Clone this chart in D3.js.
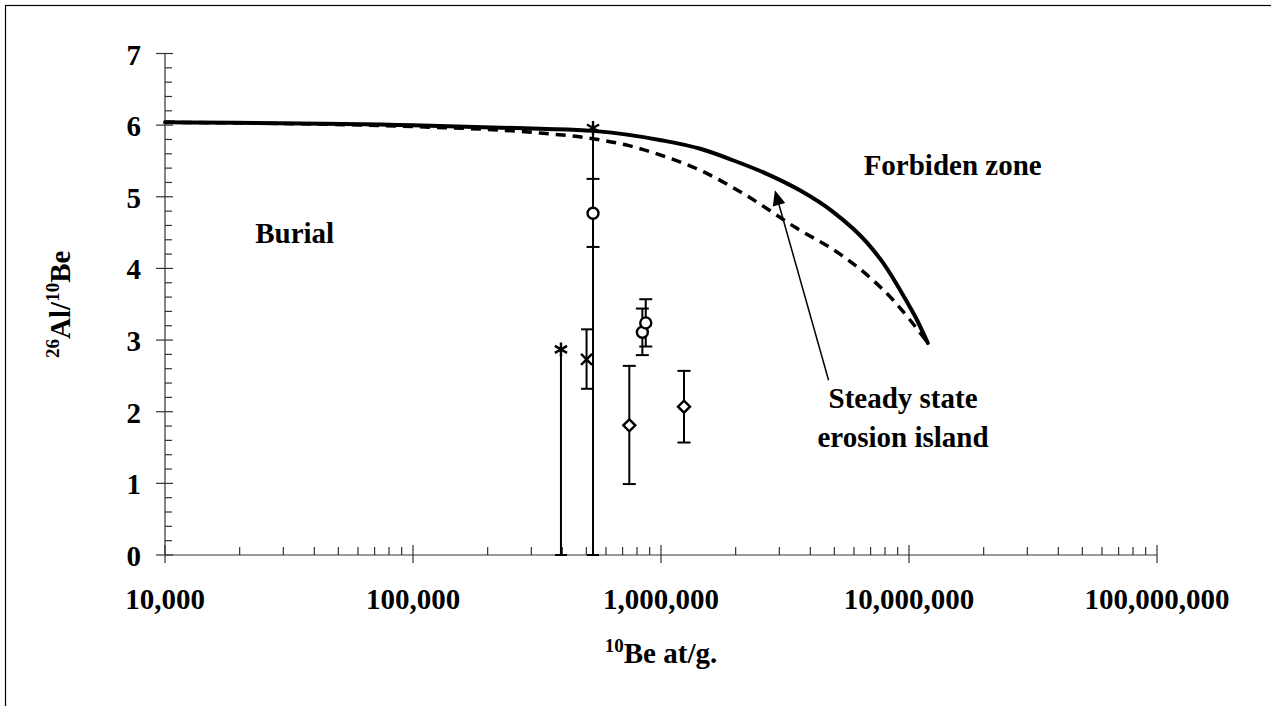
<!DOCTYPE html>
<html>
<head>
<meta charset="utf-8">
<script src="https://cdn.jsdelivr.net/npm/d3@7"></script>
<style>
  body { margin: 0; background: #fff; }
  svg { display: block; }
  text { font-family: "Liberation Serif", "Times New Roman", serif; font-weight: bold; fill: #000; }
</style>
</head>
<body>
<svg id="chart" width="1271" height="706"></svg>
<script>
// ---------- data ----------
const xTickValues = [1e4, 1e5, 1e6, 1e7, 1e8];
const xTickLabels = ["10,000", "100,000", "1,000,000", "10,000,000", "100,000,000"];
const yTickValues = [0, 1, 2, 3, 4, 5, 6, 7];

// steady-state (zero erosion) limit - solid curve
const solidX = [1e4, 1e5, 3.25e5, 5.32e5, 1e6, 1.44e6, 1.95e6, 2.67e6, 3.63e6, 4.94e6, 6.77e6, 7.85e6, 9.82e6, 1.077e7, 1.19e7];
const solidY = [6.04, 6.00, 5.95, 5.92, 5.79, 5.67, 5.51, 5.32, 5.09, 4.79, 4.36, 4.08, 3.53, 3.28, 2.96];

// dashed curve
const dashX = [1e4, 1e5, 3.25e5, 5.32e5, 7.5e5, 1e6, 1.44e6, 2.18e6, 3.53e6, 5.27e6, 6.77e6, 8.62e6, 1.01e7, 1.19e7];
const dashY = [6.04, 5.98, 5.89, 5.81, 5.71, 5.58, 5.37, 5.03, 4.56, 4.20, 3.91, 3.56, 3.28, 2.96];

// samples: asterisk
const starX = [395000, 532000];
const starY = [2.87, 5.96];
const starErrMinus = [2.87, 5.96];
const starErrPlus = [0, 0];
// samples: cross
const crossX = [501000];
const crossY = [2.73];
const crossErrMinus = [0.41];
const crossErrPlus = [0.42];
// samples: circles
const circX = [532000, 841000, 868000];
const circY = [4.77, 3.11, 3.24];
const circErrMinus = [0.47, 0.32, 0.33];
const circErrPlus = [0.48, 0.33, 0.33];
// samples: diamonds
const diamX = [745000, 1238000];
const diamY = [1.81, 2.07];
const diamErrMinus = [0.82, 0.50];
const diamErrPlus = [0.83, 0.50];

// annotations
const arrowFrom = [4.74e6, 2.44];
const arrowTo = [2.88e6, 5.09];
const labels = [
  { text: "Burial", x: 2.31e4, y: 4.35, anchor: "start" },
  { text: "Forbiden zone", x: 1.5e7, y: 5.30, anchor: "middle" },
  { text: "Steady state", x: 9.46e6, y: 2.05, anchor: "middle" },
  { text: "erosion island", x: 9.46e6, y: 1.51, anchor: "middle" }
];

// ---------- drawing ----------
const svg = d3.select("#chart");
const x = d3.scaleLog().domain([1e4, 1e8]).range([165, 1157]);
const y = d3.scaleLinear().domain([0, 7]).range([555, 53.5]);

// outer frame (only top & left visible)
svg.append("rect").attr("x", 5.5).attr("y", 5.5).attr("width", 1400).attr("height", 900)
  .attr("fill", "none").attr("stroke", "#000").attr("stroke-width", 1.2);

// Y axis
const gy = svg.append("g");
gy.append("line").attr("x1", 165).attr("x2", 165).attr("y1", y(7)).attr("y2", y(0))
  .attr("stroke", "#333").attr("stroke-width", 1.2);
const yMinor = d3.range(0, 35).map(i => i * 0.2).filter(v => Math.abs(v - Math.round(v)) > 1e-6);
gy.selectAll("line.ymin").data(yMinor).enter().append("line")
  .attr("x1", 165).attr("x2", 172).attr("y1", d => y(d)).attr("y2", d => y(d))
  .attr("stroke", "#333").attr("stroke-width", 1.2);
gy.selectAll("line.ymaj").data(yTickValues).enter().append("line")
  .attr("x1", 156).attr("x2", 173).attr("y1", d => y(d)).attr("y2", d => y(d))
  .attr("stroke", "#333").attr("stroke-width", 1.2);
gy.selectAll("text").data(yTickValues).enter().append("text")
  .attr("x", 141).attr("y", d => y(d) + 11).attr("text-anchor", "end")
  .attr("font-size", 29).text(d => d);

// X axis
const gx = svg.append("g");
gx.append("line").attr("x1", x(1e4)).attr("x2", x(1e8)).attr("y1", 555).attr("y2", 555)
  .attr("stroke", "#333").attr("stroke-width", 1.2);
const xMinor = [];
[1e4, 1e5, 1e6, 1e7].forEach(d => { for (let k = 2; k <= 9; k++) xMinor.push(k * d); });
gx.selectAll("line.xmin").data(xMinor).enter().append("line")
  .attr("x1", d => x(d)).attr("x2", d => x(d)).attr("y1", 547).attr("y2", 555)
  .attr("stroke", "#333").attr("stroke-width", 1.2);
gx.selectAll("line.xmaj").data(xTickValues).enter().append("line")
  .attr("x1", d => x(d)).attr("x2", d => x(d)).attr("y1", 545).attr("y2", 563)
  .attr("stroke", "#333").attr("stroke-width", 1.2);
gx.selectAll("text").data(xTickValues).enter().append("text")
  .attr("x", d => x(d)).attr("y", 609).attr("text-anchor", "middle")
  .attr("font-size", 29).text((d, i) => xTickLabels[i]);

// axis titles
const xt = svg.append("text").attr("x", (x(1e4) + x(1e8)) / 2).attr("y", 663)
  .attr("text-anchor", "middle").attr("font-size", 29);
xt.append("tspan").attr("font-size", 19).attr("dy", -11).text("10");
xt.append("tspan").attr("dy", 11).text("Be at/g.");

const yt = svg.append("text").attr("transform", "translate(70," + (y(0) + y(7)) / 2 + ") rotate(-90)")
  .attr("text-anchor", "middle").attr("font-size", 29);
yt.append("tspan").attr("font-size", 19).attr("dy", -11).text("26");
yt.append("tspan").attr("dy", 11).text("Al/");
yt.append("tspan").attr("font-size", 19).attr("dy", -11).text("10");
yt.append("tspan").attr("dy", 11).text("Be");

// curves
const line = d3.line().x(d => x(d[0])).y(d => y(d[1])).curve(d3.curveMonotoneX);
svg.append("path").datum(dashX.map((v, i) => [v, dashY[i]]))
  .attr("d", line).attr("fill", "none").attr("stroke", "#000")
  .attr("stroke-width", 3.5).attr("stroke-dasharray", "10,7");
svg.append("path").datum(solidX.map((v, i) => [v, solidY[i]]))
  .attr("d", line).attr("fill", "none").attr("stroke", "#000")
  .attr("stroke-width", 4).attr("stroke-linecap", "round");

// error bars helper
function errorBars(xs, ys, minus, plus, capHalf) {
  const g = svg.append("g").attr("stroke", "#000").attr("stroke-width", 2);
  xs.forEach((xv, i) => {
    const px = x(xv);
    const lo = ys[i] - minus[i], hi = ys[i] + plus[i];
    g.append("line").attr("x1", px).attr("x2", px).attr("y1", y(lo)).attr("y2", y(hi));
    if (minus[i] > 0) g.append("line").attr("x1", px - capHalf).attr("x2", px + capHalf).attr("y1", y(lo)).attr("y2", y(lo));
    if (plus[i] > 0) g.append("line").attr("x1", px - capHalf).attr("x2", px + capHalf).attr("y1", y(hi)).attr("y2", y(hi));
  });
}
errorBars(starX, starY, starErrMinus, starErrPlus, 6);
errorBars(crossX, crossY, crossErrMinus, crossErrPlus, 5.5);
errorBars(circX, circY, circErrMinus, circErrPlus, 6.5);
errorBars(diamX, diamY, diamErrMinus, diamErrPlus, 6.5);

// markers
const gm = svg.append("g").attr("stroke", "#000").attr("stroke-width", 2.4).attr("fill", "#fff");
starX.forEach((xv, i) => {
  const px = x(xv), py = y(starY[i]), r = 7;
  gm.append("path").attr("fill", "none")
    .attr("d", `M${px},${py - r}L${px},${py + r}M${px - r * 0.87},${py - r * 0.5}L${px + r * 0.87},${py + r * 0.5}M${px - r * 0.87},${py + r * 0.5}L${px + r * 0.87},${py - r * 0.5}`);
});
crossX.forEach((xv, i) => {
  const px = x(xv), py = y(crossY[i]), r = 5.5;
  gm.append("path").attr("fill", "none")
    .attr("d", `M${px - r},${py - r}L${px + r},${py + r}M${px - r},${py + r}L${px + r},${py - r}`);
});
circX.forEach((xv, i) => {
  gm.append("circle").attr("cx", x(xv)).attr("cy", y(circY[i])).attr("r", 5.5);
});
diamX.forEach((xv, i) => {
  const px = x(xv), py = y(diamY[i]), r = 6;
  gm.append("path").attr("d", `M${px},${py - r}L${px + r},${py}L${px},${py + r}L${px - r},${py}Z`);
});

// arrow
const ax1 = x(arrowFrom[0]), ay1 = y(arrowFrom[1]), ax2 = x(arrowTo[0]), ay2 = y(arrowTo[1]);
const ang = Math.atan2(ay2 - ay1, ax2 - ax1);
const hl = 15, hw = 6.5;
const bx = ax2 - hl * Math.cos(ang), by = ay2 - hl * Math.sin(ang);
svg.append("line").attr("x1", ax1).attr("y1", ay1).attr("x2", bx).attr("y2", by)
  .attr("stroke", "#000").attr("stroke-width", 1.5);
svg.append("path").attr("fill", "#000")
  .attr("d", `M${ax2},${ay2}L${bx + hw * Math.sin(ang)},${by - hw * Math.cos(ang)}L${bx - hw * Math.sin(ang)},${by + hw * Math.cos(ang)}Z`);

// region labels
svg.selectAll("text.lab").data(labels).enter().append("text").attr("class", "lab")
  .attr("x", d => x(d.x)).attr("y", d => y(d.y)).attr("text-anchor", d => d.anchor)
  .attr("font-size", 29).text(d => d.text);
</script>
</body>
</html>
